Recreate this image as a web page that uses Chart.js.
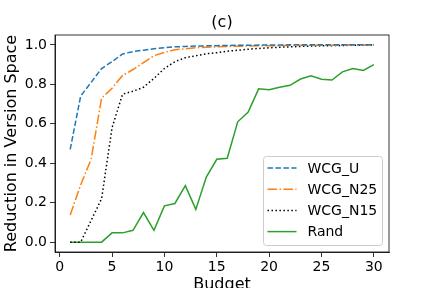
<!DOCTYPE html>
<html>
<head>
<meta charset="utf-8">
<script src="https://cdn.jsdelivr.net/npm/chart.js@4/dist/chart.umd.min.js"></script>
<style>
html,body{margin:0;padding:0;background:#fff;}
canvas{display:block;}
</style>
</head>
<body>
<canvas id="c" width="432" height="288"></canvas>
<script>
const budgets = [1,2,3,4,5,6,7,8,9,10,11,12,13,14,15,16,17,18,19,20,21,22,23,24,25,26,27,28,29,30];
const wcgU   = [0.47,0.74,0.81,0.88,0.915,0.954,0.966,0.973,0.98,0.985,0.99,0.992,0.994,0.995,0.996,0.997,0.998,0.998,0.999,0.999,0.999,1.0,1.0,1.0,1.0,1.0,1.0,1.0,1.0,1.0];
const wcgN25 = [0.137,0.29,0.42,0.73,0.78,0.845,0.875,0.91,0.945,0.962,0.975,0.98,0.985,0.988,0.99,0.992,0.993,0.994,0.995,0.996,0.996,0.997,0.997,0.998,0.998,0.998,0.999,0.999,0.999,0.999];
const wcgN15 = [0,0,0.11,0.22,0.58,0.75,0.765,0.785,0.83,0.88,0.915,0.935,0.945,0.955,0.96,0.968,0.973,0.978,0.982,0.985,0.988,0.99,0.992,0.994,0.995,0.996,0.997,0.998,0.998,0.999];
const rand   = [0,0,0,0,0.047,0.047,0.06,0.15,0.06,0.184,0.196,0.286,0.166,0.33,0.42,0.425,0.61,0.66,0.777,0.772,0.785,0.795,0.827,0.843,0.826,0.822,0.863,0.88,0.87,0.9];
const seriesLabels = ['WCG_U','WCG_N25','WCG_N15','Rand'];
const xTicks = [0,5,10,15,20,25,30];
const yTicks = [0.0,0.2,0.4,0.6,0.8,1.0];
const titleText = '(c)';
const xTitle = 'Budget';
const yTitle = 'Reduction in Version Space';

const FONT = 'DejaVu Sans';
const pts = arr => budgets.map((b,i)=>({x:b,y:arr[i]}));

function mk(label, arr, color, dash) {
  return {label, data: pts(arr), borderColor: color, backgroundColor: color,
    borderWidth: 1.5, borderDash: dash, borderCapStyle: 'butt', pointRadius: 0,
    tension: 0, fill: false};
}

const frameAndLegend = {
  id: 'frameAndLegend',
  afterDraw(chart) {
    const ctx = chart.ctx, a = chart.chartArea;
    ctx.save();
    ctx.strokeStyle = '#000'; ctx.lineWidth = 0.8;
    ctx.strokeRect(a.left, a.top, a.right - a.left, a.bottom - a.top);
    // legend
    const w = 119, h = 89;
    const lx = a.right - 7 - w, ly = a.bottom - 7 - h;
    ctx.beginPath();
    ctx.roundRect(lx + 0.5, ly + 0.5, w, h, 3);
    ctx.fillStyle = 'rgba(255,255,255,0.8)';
    ctx.fill();
    ctx.strokeStyle = '#cccccc'; ctx.lineWidth = 1;
    ctx.stroke();
    ctx.font = '14px "' + FONT + '"';
    ctx.textBaseline = 'middle'; ctx.textAlign = 'left';
    chart.data.datasets.forEach((ds, i) => {
      const y = ly + 12 + i * 21.2;
      ctx.beginPath();
      ctx.setLineDash(ds.borderDash || []);
      ctx.lineCap = 'butt';
      ctx.strokeStyle = ds.borderColor; ctx.lineWidth = 1.5;
      ctx.moveTo(lx + 4.5, y); ctx.lineTo(lx + 33.5, y);
      ctx.stroke();
      ctx.setLineDash([]);
      ctx.fillStyle = '#000';
      ctx.fillText(ds.label, lx + 44.5, y + 1);
    });
    ctx.restore();
  }
};

new Chart(document.getElementById('c'), {
  type: 'line',
  data: {
    datasets: [
      mk(seriesLabels[0], wcgU, '#1f77b4', [5.55, 2.4]),
      mk(seriesLabels[1], wcgN25, '#ff7f0e', [9.6, 2.4, 1.5, 2.4]),
      mk(seriesLabels[2], wcgN15, '#000000', [1.5, 2.475]),
      mk(seriesLabels[3], rand, '#2ca02c', [])
    ]
  },
  options: {
    responsive: false, animation: false, devicePixelRatio: 1,
    layout: {padding: {left: 0, right: 43, top: 0, bottom: 0}},
    plugins: {
      legend: {display: false},
      tooltip: {enabled: false},
      title: {display: true, text: titleText, fullSize: false, color: '#000',
        font: {family: FONT, size: 16, weight: 'normal', lineHeight: 1.2},
        padding: {top: 13, bottom: 2.8}}
    },
    scales: {
      x: {
        type: 'linear', min: -0.45, max: 31.45,
        afterBuildTicks: s => { s.ticks = xTicks.map(v => ({value: v})); },
        afterFit: s => { s.height = 36; },
        grid: {drawOnChartArea: false, tickLength: 5, color: '#000', tickWidth: 0.8},
        border: {display: true, color: '#000', width: 0.8},
        ticks: {color: '#000', padding: 2, maxRotation: 0, autoSkip: false,
          font: {family: FONT, size: 14}, callback: v => String(v)},
        title: {display: true, text: xTitle, color: '#000',
          font: {family: FONT, size: 16, lineHeight: 0.375}, padding: 0}
      },
      y: {
        type: 'linear', min: -0.05, max: 1.05,
        afterBuildTicks: s => { s.ticks = yTicks.map(v => ({value: v})); },
        afterFit: s => { s.width = 55; },
        grid: {drawOnChartArea: false, tickLength: 5, color: '#000', tickWidth: 0.8},
        border: {display: true, color: '#000', width: 0.8},
        ticks: {color: '#000', padding: 3, autoSkip: false,
          font: {family: FONT, size: 14}, callback: v => Number(v).toFixed(1)},
        title: {display: true, text: yTitle, color: '#000',
          font: {family: FONT, size: 16, lineHeight: 1.2}, padding: {top: 2.4, bottom: 0}}
      }
    }
  },
  plugins: [frameAndLegend]
});
</script>
</body>
</html>
